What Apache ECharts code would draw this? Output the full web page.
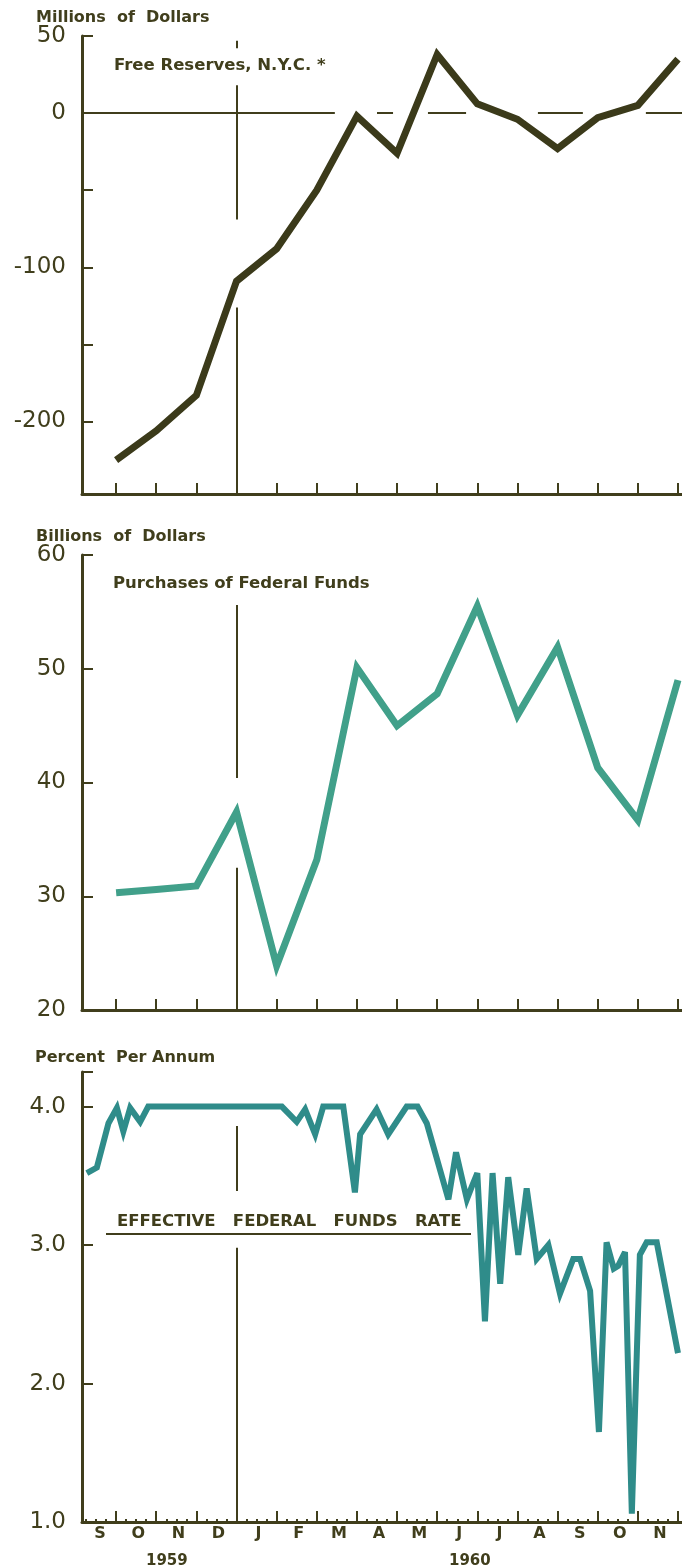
<!DOCTYPE html>
<html>
<head>
<meta charset="utf-8">
<title>Free Reserves and Federal Funds</title>
<script src="https://cdn.jsdelivr.net/npm/echarts@6/dist/echarts.min.js"></script>
<style>html,body{margin:0;padding:0;background:#fff;}</style>
</head>
<body>
<div id="main" style="width:682px;height:1568px;"></div>
<script type="text/javascript">
// x is counted in months from the start of September 1959
var monthLetters = ['S', 'O', 'N', 'D', 'J', 'F', 'M', 'A', 'M', 'J', 'J', 'A', 'S', 'O', 'N'];
var monthEnds = [1, 2, 3, 4, 5, 6, 7, 8, 9, 10, 11, 12, 13, 14, 15];

// Free Reserves, N.Y.C. (millions of dollars), monthly
var freeReserves = [-225, -206, -183, -109, -88, -50, -2, -26, 38, 6, -4, -23, -3, 5, 35];

// Purchases of Federal Funds (billions of dollars), monthly
var fundsPurchases = [30.3, 30.6, 30.9, 37.4, 23.9, 33.2, 50.1, 45.0, 47.8, 55.5, 45.9, 51.9, 41.3, 36.7, 49.0];

// Effective federal funds rate (percent), weekly
var rateWeeks = [0.27, 0.52, 0.81, 1.02, 1.18, 1.35, 1.60, 1.80, 5.13, 5.50, 5.71, 5.96, 6.16, 6.66, 6.95, 7.08,
  7.49, 7.78, 8.24, 8.51, 8.74, 9.28, 9.47, 9.74, 9.86, 10.00, 10.19, 10.38, 10.57, 10.77, 11.02, 11.23,
  11.48, 11.77, 12.06, 12.39, 12.56, 12.81, 13.03, 13.22, 13.40, 13.51, 13.68, 13.85, 14.05, 14.22, 14.47, 15.0];
var rateValues = [3.52, 3.56, 3.88, 3.99, 3.82, 3.99, 3.89, 4.0, 4.0, 3.89, 3.98, 3.80, 4.0, 4.0, 3.38, 3.80,
  3.98, 3.80, 4.0, 4.0, 3.88, 3.33, 3.67, 3.33, 3.42, 3.52, 2.45, 3.52, 2.72, 3.49, 2.93, 3.41,
  2.90, 3.00, 2.65, 2.90, 2.90, 2.67, 1.65, 3.02, 2.83, 2.85, 2.95, 1.06, 2.93, 3.02, 3.02, 2.22];

var reservesTicks = [50, 0, -50, -100, -150, -200];
var reservesLabels = [50, 0, -100, -200];
var fundsTicks = [60, 50, 40, 30, 20];
var rateTicks = [4.25, 4, 3, 2, 1];
var rateLabels = [4, 3, 2, 1];

var olive = '#403e1c';
var darkLine = '#3b3a1a';
var fundsColor = '#41a08a';
var rateColor = '#2f8c8a';

var monthMids = monthEnds.map(function (m) { return m - 0.45; });
monthMids[0] = 0.6;
var weekTicks = [];
for (var i = 0; i < 15; i++) {
  weekTicks.push(i + 0.25, i + 0.5, i + 0.75);
}

function xAxisFor(gi, withLabels) {
  return {
    type: 'value', gridIndex: gi, min: 0.15, max: 15.1,
    axisLine: { onZero: false, lineStyle: { color: olive, width: 3 } },
    axisTick: { inside: true, length: 11, customValues: monthEnds, lineStyle: { color: olive, width: 2 } },
    axisLabel: withLabels ? {
      customValues: monthMids, margin: 4, color: olive, fontSize: 16, fontWeight: 'bold',
      fontFamily: 'DejaVu Sans',
      formatter: function (v) { return monthLetters[Math.floor(v)]; }
    } : { show: false },
    splitLine: { show: false }
  };
}

function yAxisFor(gi, min, max, ticks, labels, fmt) {
  return {
    type: 'value', gridIndex: gi, min: min, max: max,
    axisLine: { show: true, onZero: false, lineStyle: { color: olive, width: 3 } },
    axisTick: { show: true, inside: true, length: 11, customValues: ticks, lineStyle: { color: olive, width: 2 } },
    axisLabel: {
      customValues: labels, margin: 16, color: olive, fontSize: 23, fontWeight: 'normal',
      fontFamily: 'DejaVu Sans', formatter: fmt
    },
    splitLine: { show: false }
  };
}

function seg(x1, y1, x2, y2) {
  return [{ coord: [x1, y1] }, { coord: [x2, y2] }];
}

function guideLines(segments) {
  return {
    silent: true, symbol: 'none', animation: false,
    label: { show: false },
    lineStyle: { color: olive, width: 2, type: 'solid' },
    emphasis: { disabled: true },
    data: segments
  };
}

function text(str, x, y, size, weight) {
  return {
    type: 'text', x: x, y: y,
    style: {
      text: str, fill: olive, font: (weight || 'bold') + ' ' + size + 'px "DejaVu Sans"',
      textVerticalAlign: 'middle'
    }
  };
}

var myChart = echarts.init(document.getElementById('main'));

var option = {
  animation: false,
  backgroundColor: '#ffffff',
  grid: [
    { left: 82, right: 0, top: 36, height: 458, outerBoundsMode: 'none' },
    { left: 82, right: 0, top: 555, height: 455, outerBoundsMode: 'none' },
    { left: 82, right: 0, top: 1072, height: 450, outerBoundsMode: 'none' }
  ],
  xAxis: [
    xAxisFor(0, false),
    xAxisFor(1, false),
    xAxisFor(2, true),
    {
      type: 'value', gridIndex: 2, position: 'bottom', min: 0.15, max: 15.1,
      axisLine: { show: false, onZero: false },
      axisTick: { inside: true, length: 3, customValues: weekTicks, lineStyle: { color: olive, width: 2 } },
      axisLabel: { show: false },
      splitLine: { show: false }
    }
  ],
  yAxis: [
    yAxisFor(0, -247, 50, reservesTicks, reservesLabels),
    yAxisFor(1, 20, 60, fundsTicks, fundsTicks),
    yAxisFor(2, 1, 4.25, rateTicks, rateLabels, function (v) { return v.toFixed(1); })
  ],
  graphic: [
    text('Millions  of  Dollars', 36, 18, 16),
    text('Free Reserves, N.Y.C. *', 114, 66, 16.5),
    text('Billions  of  Dollars', 36, 537, 16),
    text('Purchases of Federal Funds', 113, 584, 16.5),
    text('Percent  Per Annum', 35, 1058, 16),
    text('EFFECTIVE   FEDERAL   FUNDS   RATE', 117, 1222, 16.5),
    {
      type: 'line',
      shape: { x1: 106, y1: 1234, x2: 471, y2: 1234 },
      style: { stroke: olive, lineWidth: 2 }
    },
    text('1959', 146, 1561, 15, 'bold'),
    text('1960', 449, 1561, 15, 'bold')
  ],
  series: [
    {
      name: 'Free Reserves, N.Y.C.',
      type: 'line', xAxisIndex: 0, yAxisIndex: 0,
      data: monthEnds.map(function (m, i) { return [m, freeReserves[i]]; }),
      showSymbol: false, symbol: 'none',
      lineStyle: { color: darkLine, width: 7, join: 'miter' },
      markLine: guideLines([
        seg(4, 47, 4, 42), seg(4, 18, 4, -69), seg(4, -126, 4, -247),
        seg(0.15, 0, 6.45, 0), seg(7.5, 0, 7.9, 0), seg(8.77, 0, 9.72, 0),
        seg(11.51, 0, 12.63, 0), seg(14.2, 0, 15.1, 0)
      ])
    },
    {
      name: 'Purchases of Federal Funds',
      type: 'line', xAxisIndex: 1, yAxisIndex: 1,
      data: monthEnds.map(function (m, i) { return [m, fundsPurchases[i]]; }),
      showSymbol: false, symbol: 'none',
      lineStyle: { color: fundsColor, width: 7, join: 'miter' },
      markLine: guideLines([
        seg(4, 60.2, 4, 59.1), seg(4, 55.6, 4, 40.4), seg(4, 32.5, 4, 20)
      ])
    },
    {
      name: 'Effective Federal Funds Rate',
      type: 'line', xAxisIndex: 2, yAxisIndex: 2,
      data: rateWeeks.map(function (w, i) { return [w, rateValues[i]]; }),
      showSymbol: false, symbol: 'none',
      lineStyle: { color: rateColor, width: 6, join: 'miter', miterLimit: 4 },
      markLine: guideLines([
        seg(4, 4.29, 4, 4.11), seg(4, 3.86, 4, 3.39), seg(4, 2.98, 4, 1)
      ])
    }
  ]
};

myChart.setOption(option);
</script>
</body>
</html>
